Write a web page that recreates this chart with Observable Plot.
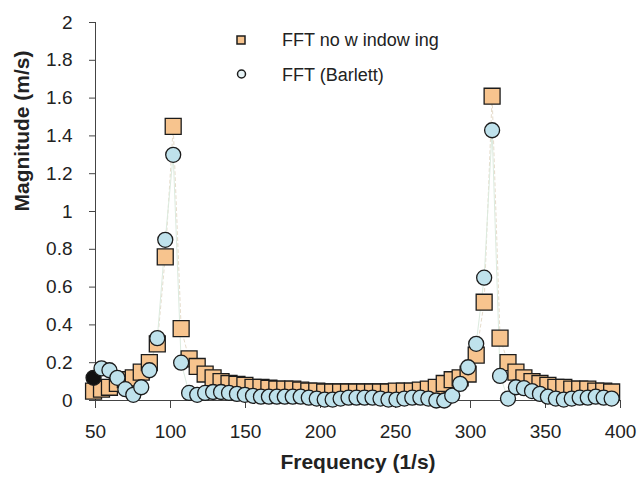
<!DOCTYPE html>
<html>
<head>
<meta charset="utf-8">
<script src="https://cdn.jsdelivr.net/npm/d3@7"></script>
<script src="https://cdn.jsdelivr.net/npm/@observablehq/plot@0.6"></script>
<style>
  html, body { margin: 0; padding: 0; background: #fff; }
  #chart { position: relative; width: 640px; height: 488px; font-family: "Liberation Sans", Arial, sans-serif; }
  .lg { position: absolute; font-size: 18px; color: #222; line-height: 1; white-space: pre; }
</style>
</head>
<body>
<div id="chart"></div>
<script>
// Frequency bins (1/s)
const freq = [48.7, 54.0, 59.3, 64.6, 69.9, 75.2, 80.5, 85.9, 91.2, 96.5,
  101.8, 107.1, 112.4, 117.8, 123.1, 128.4, 133.7, 139.0, 144.3, 149.6,
  155.0, 160.3, 165.6, 170.9, 176.2, 181.5, 186.8, 192.2, 197.5, 202.8,
  208.1, 213.4, 218.7, 224.0, 229.4, 234.7, 240.0, 245.3, 250.6, 255.9,
  261.2, 266.6, 271.9, 277.2, 282.5, 287.8, 293.1, 298.4, 303.8, 309.1,
  314.4, 319.7, 325.0, 330.3, 335.6, 341.0, 346.3, 351.6, 356.9, 362.2,
  367.5, 372.8, 378.2, 383.5, 388.8, 394.1];

// FFT no windowing (m/s)
const noWindow = [0.05, 0.06, 0.07, 0.09, 0.11, 0.12, 0.15, 0.20, 0.30, 0.76,
  1.45, 0.38, 0.22, 0.18, 0.14, 0.12, 0.10, 0.09, 0.085, 0.08,
  0.07, 0.07, 0.065, 0.06, 0.06, 0.06, 0.055, 0.05, 0.05, 0.045,
  0.045, 0.045, 0.045, 0.045, 0.045, 0.045, 0.045, 0.045, 0.05, 0.05,
  0.05, 0.055, 0.06, 0.07, 0.09, 0.11, 0.12, 0.14, 0.24, 0.52,
  1.61, 0.33, 0.20, 0.15, 0.12, 0.10, 0.09, 0.08, 0.07, 0.07,
  0.06, 0.06, 0.06, 0.05, 0.05, 0.045];

// FFT (Barlett) (m/s)
const bartlett = [0.12, 0.17, 0.16, 0.12, 0.06, 0.03, 0.07, 0.16, 0.33, 0.85,
  1.30, 0.20, 0.04, 0.03, 0.04, 0.045, 0.045, 0.04, 0.035, 0.03,
  0.025, 0.02, 0.02, 0.02, 0.02, 0.02, 0.02, 0.015, 0.01, 0.005,
  0.005, 0.01, 0.015, 0.015, 0.015, 0.015, 0.01, 0.005, 0.005, 0.01,
  0.015, 0.015, 0.01, 0.0, 0.0, 0.026, 0.088, 0.176, 0.30, 0.65,
  1.43, 0.13, 0.01, 0.07, 0.065, 0.05, 0.035, 0.02, 0.01, 0.005,
  0.01, 0.015, 0.015, 0.02, 0.015, 0.01];

const xTicks = [50, 100, 150, 200, 250, 300, 350, 400];
const yTicks = [0, 0.2, 0.4, 0.6, 0.8, 1, 1.2, 1.4, 1.6, 1.8, 2];
const seriesNames = ["FFT no w indow ing", "FFT (Barlett)"];
const xTitle = "Frequency (1/s)";
const yTitle = "Magnitude (m/s)";

const data = freq.map((f, i) => ({ i, f, a: noWindow[i], b: bartlett[i] }));

const INK = "#1c1c1c";
const plot = Plot.plot({
  width: 640,
  height: 488,
  marginLeft: 95,
  marginRight: 20,
  marginTop: 22,
  marginBottom: 88,
  x: { domain: [50, 400] },
  y: { domain: [0, 2] },
  style: { fontFamily: "'Liberation Sans', Arial, sans-serif", fontSize: "19px", color: "#222", background: "#fff", overflow: "visible" },
  marks: [
    Plot.line(data, { x: "f", y: "a", stroke: "#e6dccb", strokeWidth: 1, strokeDasharray: "3,3" }),
    Plot.line(data, { x: "f", y: "b", stroke: "#dcebdf", strokeWidth: 1 }),
    Plot.ruleY([0], { stroke: "#444", strokeWidth: 1 }),
    Plot.ruleX([50], { stroke: "#444", strokeWidth: 1 }),
    Plot.axisY({ ticks: yTicks, tickSize: 6, tickPadding: 17, tickFormat: d => String(d), label: null, stroke: "#444", fontSize: 19 }),
    Plot.axisX({ ticks: xTicks, tickSize: 8, tickPadding: 16, tickFormat: d => String(d), label: null, stroke: "#444", fontSize: 19 }),
    Plot.dot(data, { x: "f", y: "a", symbol: "square", r: 9, fill: "#f7c48e", stroke: INK, strokeWidth: 1.3 }),
    Plot.dot(data, { x: "f", y: "b", r: 7.5, fill: d => d.i === 0 ? "#111111" : "#bfe2ec", stroke: INK, strokeWidth: 1.3 }),
    Plot.text([xTitle], { frameAnchor: "bottom", dy: 68, fontWeight: "bold", fontSize: 21, fill: "#222" }),
    Plot.text([yTitle], { frameAnchor: "left", dx: -73, rotate: -90, fontWeight: "bold", fontSize: 21, fill: "#222" })
  ]
});
const chart = document.getElementById("chart");
chart.appendChild(plot);

// Legend overlay
const lg = `
  <svg style="position:absolute;left:0;top:0" width="640" height="100">
    <rect x="237" y="36" width="8" height="8" fill="#f7c48e" stroke="${INK}" stroke-width="1.5"/>
    <circle cx="241.5" cy="74" r="4" fill="#e6f3f6" stroke="${INK}" stroke-width="1.5"/>
  </svg>
  <div class="lg" style="left:282px;top:31px">${seriesNames[0]}</div>
  <div class="lg" style="left:282px;top:66px">${seriesNames[1]}</div>`;
chart.insertAdjacentHTML("beforeend", lg);
</script>
</body>
</html>
